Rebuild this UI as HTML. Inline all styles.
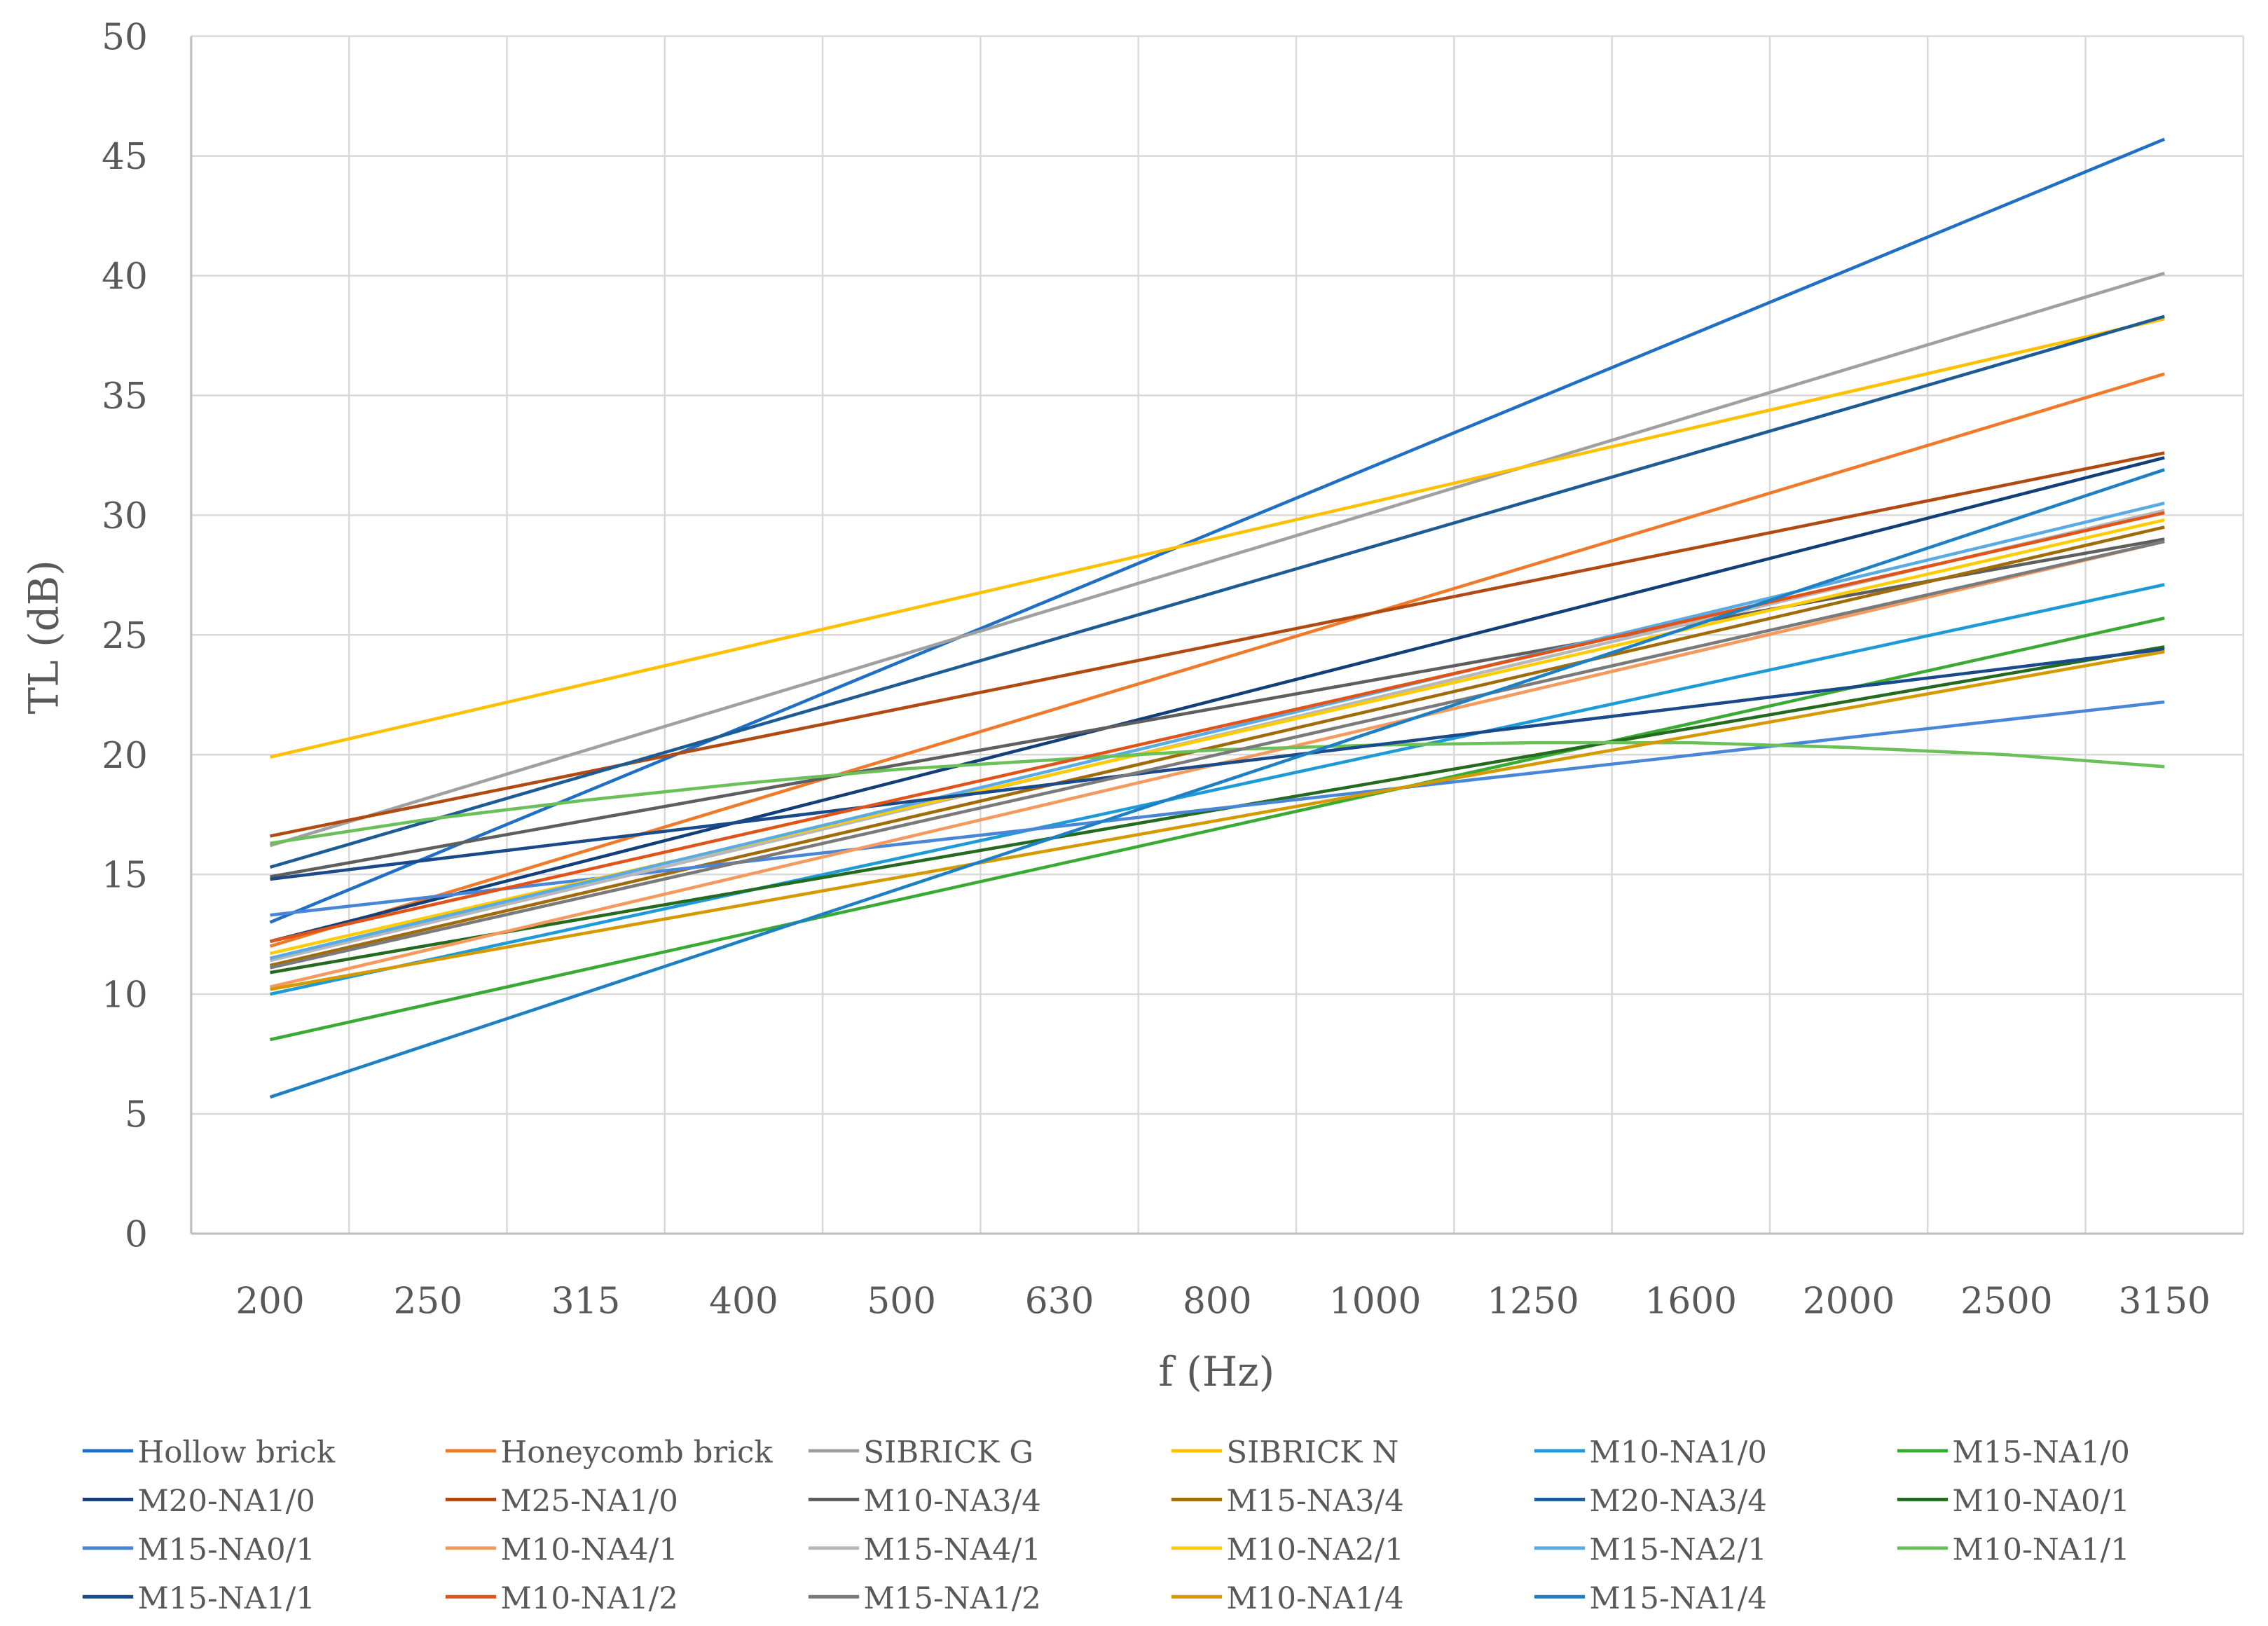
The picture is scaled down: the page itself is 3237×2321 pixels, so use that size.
<!DOCTYPE html>
<html><head><meta charset="utf-8">
<style>
html,body{margin:0;padding:0;background:#fff;}
svg{display:block;font-family:"DejaVu Serif","Liberation Serif",serif;}
</style></head>
<body>
<svg id="chart" width="3237" height="2321" viewBox="0 0 1566 1123" preserveAspectRatio="none" xmlns="http://www.w3.org/2000/svg"></svg>
<script>
const categories = ["200","250","315","400","500","630","800","1000","1250","1600","2000","2500","3150"];
const yTicks = [0,5,10,15,20,25,30,35,40,45,50];
const seriesNames = ["Hollow brick","Honeycomb brick","SIBRICK G","SIBRICK N","M10-NA1/0","M15-NA1/0","M20-NA1/0","M25-NA1/0","M10-NA3/4","M15-NA3/4","M20-NA3/4","M10-NA0/1","M15-NA0/1","M10-NA4/1","M15-NA4/1","M10-NA2/1","M15-NA2/1","M10-NA1/1","M15-NA1/1","M10-NA1/2","M15-NA1/2","M10-NA1/4","M15-NA1/4"];
const seriesColors = ["#1f6fc5","#f07a2a","#a0a0a0","#ffc000","#1e9ad6","#3aaa35","#123e7a","#b04a12","#5e5e5e","#a06c0a","#1c5b94","#246b1f","#4a86d8","#f59a5e","#b8b8b8","#ffcc00","#5aaae3","#6cc05a","#1a4a8a","#e0541a","#7a7a7a","#d49a00","#1d7fc4"];
// trendline values at 200 Hz and 3150 Hz
const startValues = [13.0,12.0,16.2,19.9,10.0,8.1,12.2,16.6,14.9,11.2,15.3,10.9,13.3,10.3,11.4,11.7,11.5,16.3,14.8,12.2,11.1,10.2,5.7];
const endValues   = [45.7,35.9,40.1,38.2,27.1,25.7,32.4,32.6,29.0,29.5,38.3,24.5,22.2,28.9,30.2,29.8,30.5,19.5,24.4,30.1,28.9,24.3,31.9];
// curved series M10-NA1/1 values at every category
const curvedValues = [16.3,17.3,18.1,18.8,19.4,19.8,20.2,20.4,20.5,20.5,20.3,20.0,19.5];
const curvedIndex = 17;

const NS="http://www.w3.org/2000/svg";
const svgEl=document.getElementById('chart');
const plotLeft=132, plotRight=1549, plotTop=25, plotBottom=852, yMax=50;
const band=(plotRight-plotLeft)/categories.length;
function xPos(i){return plotLeft+band*(i+0.5);}
function yPos(v){return plotBottom-(v/yMax)*(plotBottom-plotTop);}
function mk(tag,attrs,parent){const e=document.createElementNS(NS,tag);for(const k in attrs)e.setAttribute(k,attrs[k]);(parent||svgEl).appendChild(e);return e;}

const grid=mk('g',{});


yTicks.forEach(t=>{
  if(t>0){const l=mk('line',{x1:plotLeft,x2:plotRight,y1:yPos(t),y2:yPos(t),stroke:'#d9d9d9','stroke-width':1.2},grid);
  
  }
  const tx=mk('text',{x:plotLeft-30,y:yPos(t)+9,'text-anchor':'end','font-size':25,fill:'#595959'});
  tx.textContent=t;
  
  
});
for(let i=0;i<=categories.length;i++){
  const x=plotLeft+band*i;
  const l=mk('line',{x1:x,x2:x,y1:plotTop,y2:plotBottom,stroke:'#d9d9d9','stroke-width':1.2},grid);
  
  
}
categories.forEach((c,i)=>{
  const tx=mk('text',{x:xPos(i),y:907,'text-anchor':'middle','font-size':25,fill:'#595959'});
  tx.textContent=c;
  
  
});
const ax=mk('line',{x1:plotLeft,x2:plotRight,y1:plotBottom,y2:plotBottom,stroke:'#bfbfbf','stroke-width':1.5});


const ay=mk('line',{x1:plotLeft,x2:plotLeft,y1:plotTop,y2:plotBottom,stroke:'#bfbfbf','stroke-width':1.5});



const xt=mk('text',{x:840,y:957,'text-anchor':'middle','font-size':28,fill:'#595959'});
xt.textContent='f (Hz)';


const yt=mk('text',{x:40,y:440,'text-anchor':'middle','font-size':28,fill:'#595959',transform:'rotate(-90 40 440)'});
yt.textContent='TL (dB)';



seriesNames.forEach((n,s)=>{
  let pts;
  if(s===curvedIndex){pts=curvedValues.map((v,i)=>xPos(i)+','+yPos(v)).join(' ');}
  else{pts=xPos(0)+','+yPos(startValues[s])+' '+xPos(categories.length-1)+','+yPos(endValues[s]);}
  const p=mk('polyline',{points:pts,fill:'none',stroke:seriesColors[s],'stroke-width':2.2});
  
  
  const col=s%6,row=Math.floor(s/6);
  const lx=57+col*250.6, ly=1002+row*33.6;
  const g=mk('g',{});
  
  
  mk('line',{x1:lx,x2:lx+35,y1:ly,y2:ly,stroke:seriesColors[s],'stroke-width':2.4},g);
  const t=mk('text',{x:lx+38,y:ly+8,'font-size':21,fill:'#595959'},g);
  t.textContent=n;
});
</script>
</body></html>
